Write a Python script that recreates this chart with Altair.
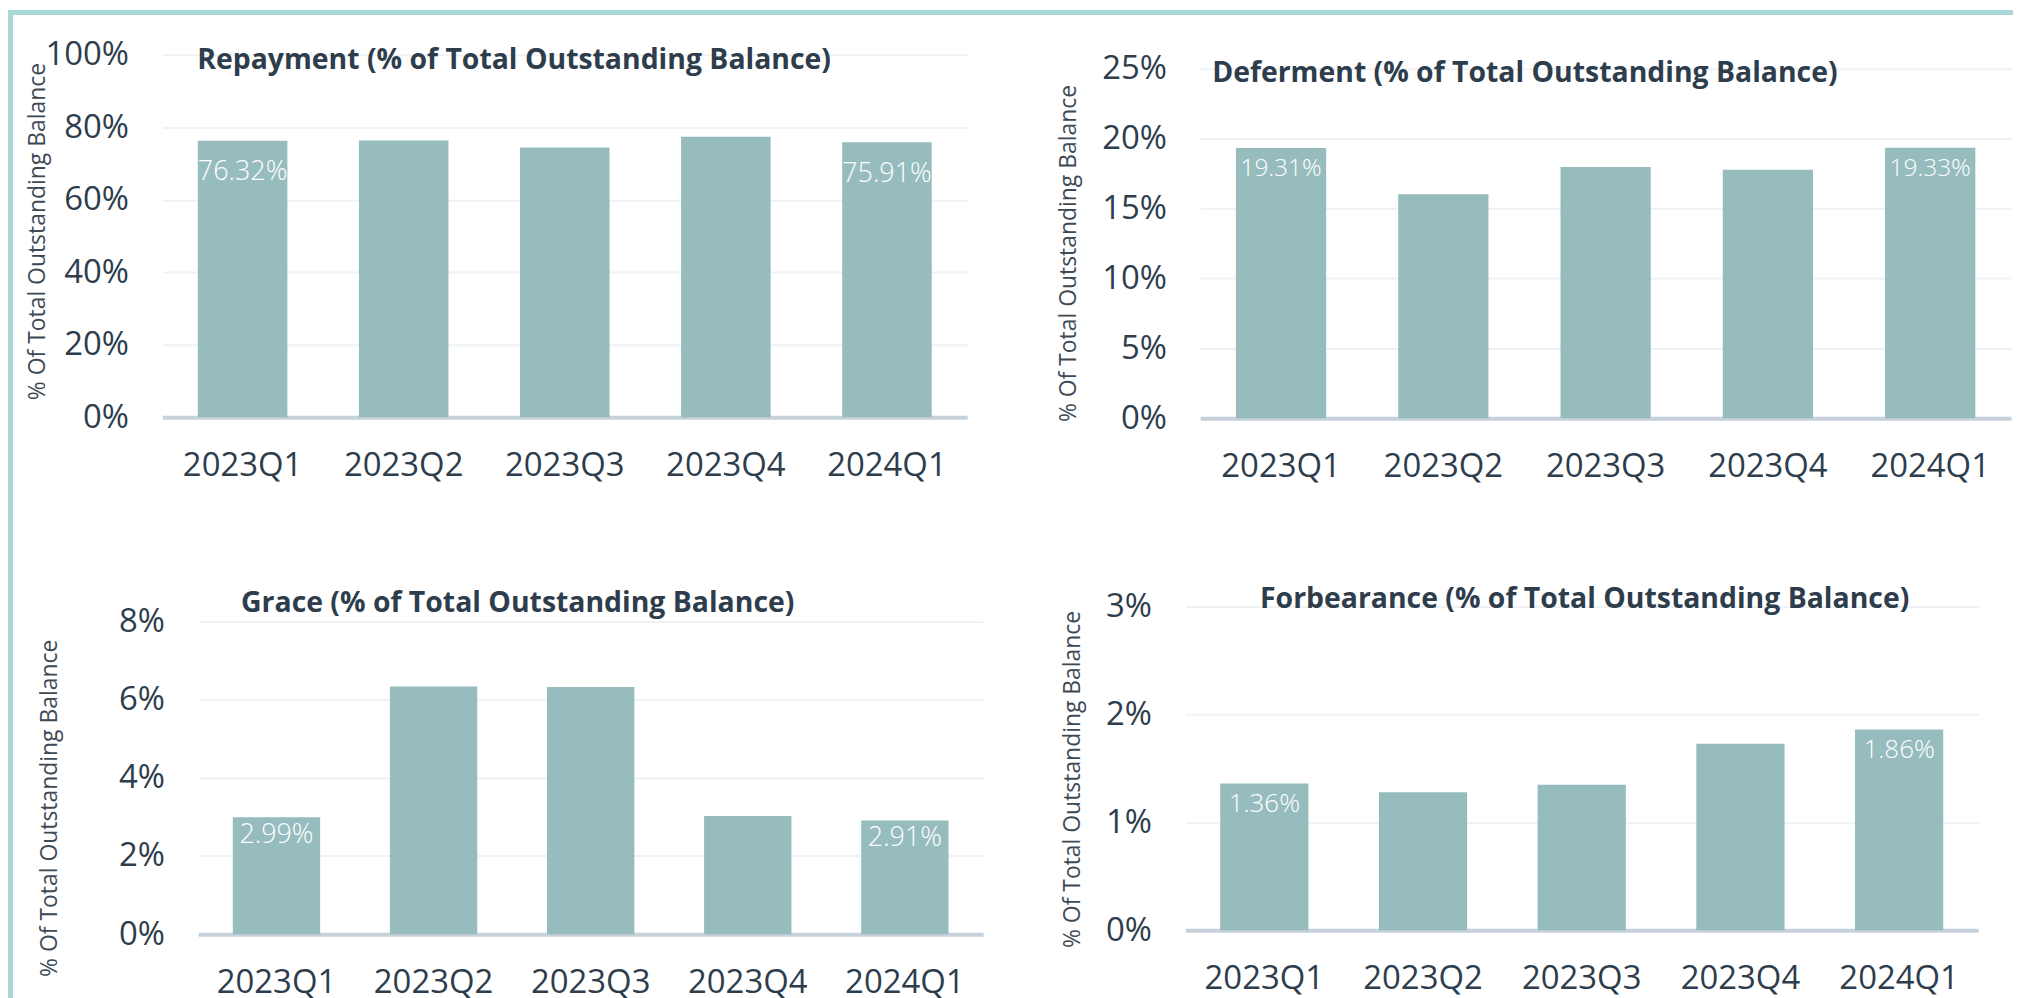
import altair as alt
import pandas as pd

# ---------------- data ----------------
quarters = ["2023Q1", "2023Q2", "2023Q3", "2023Q4", "2024Q1"]
repayment = [76.32, 76.35, 74.40, 77.40, 75.91]
deferment = [19.31, 16.00, 17.95, 17.76, 19.33]
grace = [2.99, 6.33, 6.32, 3.02, 2.91]
forbearance = [1.36, 1.28, 1.35, 1.73, 1.86]

panel_titles = [
    "Repayment (% of Total Outstanding Balance)",
    "Deferment (% of Total Outstanding Balance)",
    "Grace (% of Total Outstanding Balance)",
    "Forbearance (% of Total Outstanding Balance)",
]
y_title = "% Of Total Outstanding Balance"

ticks_rep = [0, 20, 40, 60, 80, 100]
ticks_def = [0, 5, 10, 15, 20, 25]
ticks_gra = [0, 2, 4, 6, 8]
ticks_for = [0, 1, 2, 3]

# ---------------- style ----------------
FONT = "Open Sans"
BAR = "#96bcbe"
FRAME = "#a9d8d9"
TEXT = "#2e3d4c"
YTITLE = "#3d4a56"
GRID = "#eef2f6"
DOMAIN = "#c6d1db"
TICK_FS = 33

one = pd.DataFrame({"f": [0]})


def panel(values, title, ticks, ymax, width, height, pi, po, align,
          title_dx, title_y, ytx, yty, label_dy, label_size, frames):
    df = pd.DataFrame({"quarter": quarters, "value": values})
    x = alt.X(
        "quarter:N", sort=quarters,
        scale=alt.Scale(paddingInner=pi, paddingOuter=po, align=align),
        axis=alt.Axis(title=None, labelAngle=0, labelFontSize=TICK_FS, labelFont=FONT,
                      labelColor=TEXT, labelPadding=32, ticks=False, tickSize=0,
                      domain=True, domainColor=DOMAIN, domainWidth=4, grid=False),
    )
    y = alt.Y(
        "value:Q",
        scale=alt.Scale(domain=[0, ymax], nice=False, zero=True),
        axis=alt.Axis(values=ticks, labelExpr="datum.value + '%'", labelFontSize=TICK_FS,
                      labelFont=FONT, labelColor=TEXT, labelPadding=34, ticks=False,
                      tickSize=0, domain=False, grid=True, gridColor=GRID, gridWidth=2,
                      labelFlush=False, labelOverlap=False,
                      title=y_title, titleFont=FONT, titleFontSize=23,
                      titleFontWeight="normal", titleColor=YTITLE, titleAngle=270,
                      titleAlign="center", titleBaseline="middle",
                      titleX=ytx, titleY=yty),
    )
    base = alt.Chart(df)
    bars = base.mark_bar(color=BAR).encode(x=x, y=y)
    labels = (
        base.transform_filter(alt.FieldOneOfPredicate(field="quarter",
                                                      oneOf=[quarters[0], quarters[-1]]))
        .transform_calculate(label="format(datum.value, '.2f') + '%'")
        .mark_text(color="white", font=FONT, fontSize=label_size, fontWeight=300,
                   baseline="middle", align="center", dy=label_dy)
        .encode(x=x, y=y, text="label:N")
    )
    head = alt.Chart(one).mark_text(
        text=title, align="left", baseline="middle", font=FONT, fontSize=28.5,
        fontWeight="bold", color=TEXT,
    ).encode(x=alt.value(title_dx), y=alt.value(title_y))
    layers = [bars, labels, head]
    for (x1, x2, y1, y2) in frames:
        layers.append(
            alt.Chart(one).mark_rect(color=FRAME).encode(
                x=alt.value(x1), x2=alt.value(x2), y=alt.value(y1), y2=alt.value(y2))
        )
    return alt.layer(*layers).properties(width=width, height=height)


p1 = panel(repayment, panel_titles[0], ticks_rep, 100, 808, 364, 0.444, 0.22, 0.5,
           35, 5, -125, 177, 32, 27,
           [(-155, 1858, -45, -40), (-155, -150, -45, 442)])
p2 = panel(deferment, panel_titles[1], ticks_def, 25.97, 814, 365, 0.444, 0.22, 0.5,
           12, 18, -132, 199, 21, 24.5, [])
p3 = panel(grace, panel_titles[2], ticks_gra, 8.374, 788, 329, 0.444, 0.22, 0.5,
           43, -4, -149, 202, 17.5, 27,
           [(-191, -186, -112, 393)])
p4 = panel(forbearance, panel_titles[3], ticks_for, 3, 796, 325, 0.444, 0.22, 0.5,
           75, -8, -113, 173, 21, 26, [])

# invisible spacer that shifts the lower row 36 px to the right
spacer = (
    alt.Chart(one).mark_point(opacity=0, size=1)
    .encode(x=alt.value(0), y=alt.value(0))
    .properties(width=36, height=1)
)

row1 = alt.hconcat(p1, p2, spacing=234, bounds="flush")
row2 = alt.hconcat(spacer, alt.hconcat(p3, p4, spacing=203, bounds="flush"),
                   spacing=0, bounds="flush")

chart = (
    alt.vconcat(row1, row2, spacing=0)
    .properties(padding=0, background="white")
    .configure_view(stroke=None)
)

chart.save("out.html", embed_options={"renderer": "svg", "actions": False})
